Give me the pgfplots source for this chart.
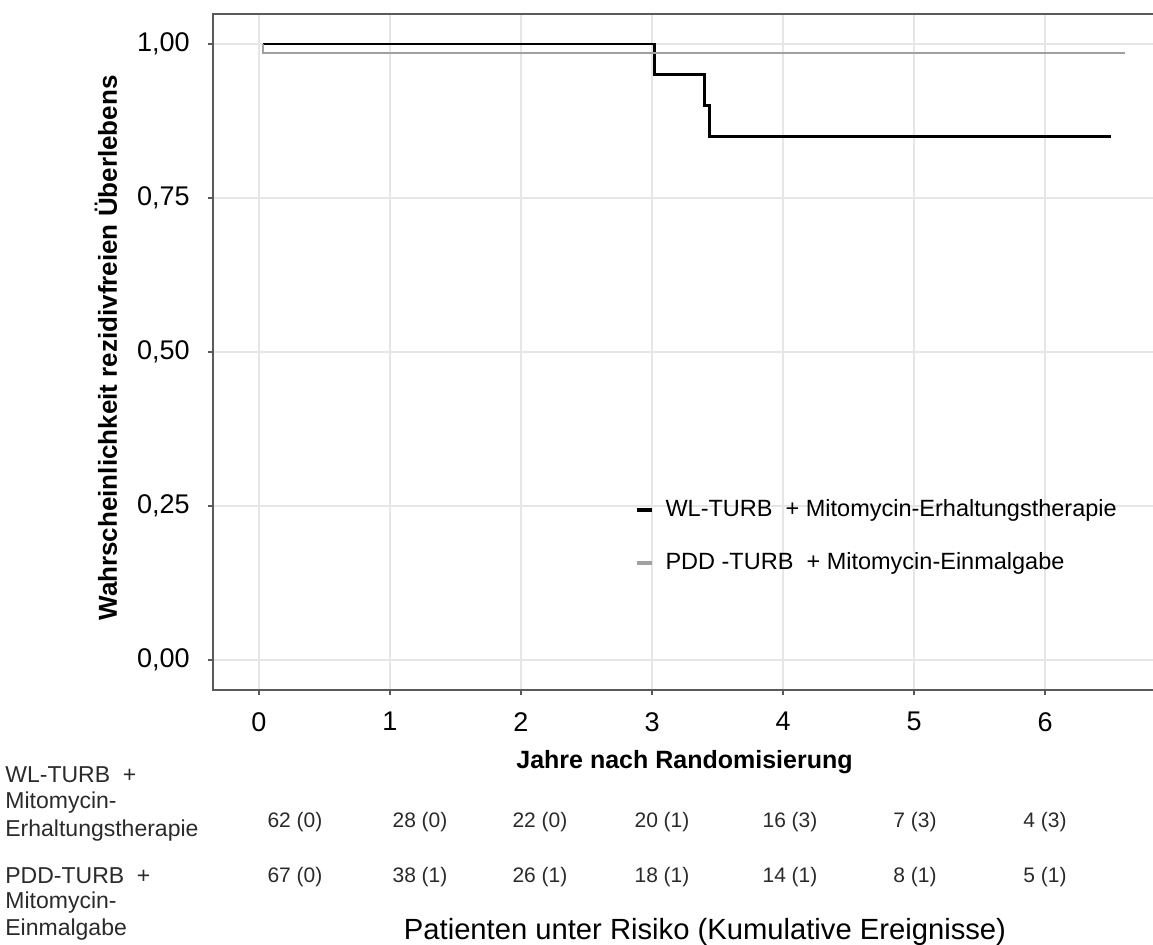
\documentclass[border=0pt]{standalone}
\usepackage{pgfplots}
\pgfplotsset{compat=1.18}
\usepackage{fontspec}
\setmainfont{Liberation Sans}
\definecolor{gridc}{HTML}{E6E6E6}
\definecolor{spine}{HTML}{5A5A5A}
\definecolor{greyline}{HTML}{A0A0A0}
\definecolor{tabtext}{HTML}{2A2A2A}
\begin{document}
\begin{tikzpicture}
\useasboundingbox (0pt,0pt) rectangle (576.5pt,-472pt);
\begin{axis}[
  at={(106.5pt,-345pt)}, anchor=south west,
  scale only axis, width=471.5pt, height=338pt,
  xmin=-0.351, xmax=6.847, ymin=-0.0487, ymax=1.0487,
  xtick={0,1,2,3,4,5,6}, xticklabels={0,1,2,3,4,5,6},
  ytick={0,0.25,0.5,0.75,1}, yticklabels={{0,00},{0,25},{0,50},{0,75},{1,00}},
  tick pos=left, tick align=outside, major tick length=2.5pt,
  tick style={spine, line width=0.75pt},
  axis line style={spine, line width=0.75pt},
  grid=major, major grid style={gridc, line width=0.75pt},
  ticklabel style={font=\fontsize{13.5}{15}\selectfont, inner sep=0pt},
  xticklabel shift=8.5pt, yticklabel shift=9pt,
  xlabel={Jahre nach Randomisierung},
  ylabel={Wahrscheinlichkeit rezidivfreien Überlebens},
  xlabel style={at={(axis description cs:0.5,-0.1065)}, anchor=center, font=\fontsize{12.5}{14}\selectfont\bfseries},
  ylabel style={at={(axis description cs:-0.1135,0.506)}, anchor=center, font=\fontsize{13}{15}\selectfont\bfseries},
  legend style={at={(axis description cs:0.447,0.288)}, anchor=north west, draw=none, fill=none,
    font=\fontsize{11.75}{13}\selectfont, row sep=12.5pt, inner sep=0pt,
    nodes={inner xsep=6pt}},
  legend cell align=left,
  legend image code/.code={\draw[#1, line width=1.8pt] (0pt,0pt) -- (7.5pt,0pt);},
  clip=false,
]
\addplot[const plot, black, line width=1.4pt] coordinates {
  (0.03,1.00) (3.02,0.95) (3.40,0.90) (3.44,0.85) (6.50,0.85)
};
\addlegendentry{WL-TURB \ + Mitomycin-Erhaltungstherapie}
\addplot[const plot, greyline, line width=1.1pt] coordinates {
  (0.03,1.00) (0.03,0.985) (6.61,0.985)
};
\addlegendentry{PDD -TURB \ + Mitomycin-Einmalgabe}
\end{axis}
\begin{scope}[x=0.5pt,y=-0.5pt]
  \begin{scope}[every node/.style={anchor=west, inner sep=0pt, text=tabtext, font=\fontsize{11.5}{13}\selectfont}]
    \node at (5,775) {WL-TURB \ +};
    \node at (5,803) {Mitomycin-};
    \node at (5,831) {Erhaltungstherapie};
    \node at (5,876) {PDD-TURB \ +};
    \node at (5,903) {Mitomycin-};
    \node at (5,930) {Einmalgabe};
  \end{scope}
  \begin{scope}[every node/.style={anchor=center, inner sep=0pt, text=tabtext, font=\fontsize{10.5}{12}\selectfont}]
    \foreach \x/\t in {295/62 (0), 420/28 (0), 540/22 (0), 662/20 (1), 790/16 (3), 915/7 (3), 1045/4 (3)}
      \node at (\x,822) {\t};
    \foreach \x/\t in {295/67 (0), 420/38 (1), 540/26 (1), 662/18 (1), 790/14 (1), 915/8 (1), 1045/5 (1)}
      \node at (\x,877) {\t};
  \end{scope}
  \node[anchor=center, inner sep=0pt, font=\fontsize{14.6}{16}\selectfont] at (705,932) {Patienten unter Risiko (Kumulative Ereignisse)};
\end{scope}
\end{tikzpicture}
\end{document}
